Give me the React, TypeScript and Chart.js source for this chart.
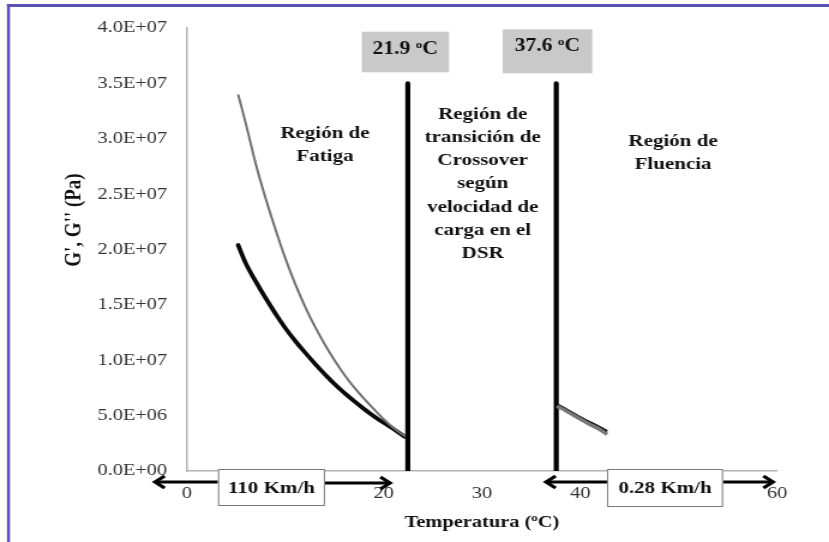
import React, { useEffect, useRef } from 'react';
import { Chart, registerables } from 'chart.js';

Chart.register(...registerables);

// ---------- data ----------
const xTickLabels = ['0', '10', '20', '30', '40', '50', '60'];
const yTickLabels = ['0.0E+00', '5.0E+06', '1.0E+07', '1.5E+07', '2.0E+07', '2.5E+07', '3.0E+07', '3.5E+07', '4.0E+07'];

// Fatigue region, G' (grey) and G'' (black)
const fatigueTempsGp = [5.2, 6, 7, 8, 9, 10, 11, 12, 13, 14, 15, 16, 17, 18, 19, 20, 21, 22.2];
const fatigueGp = [34.0e6, 31.3e6, 27.7e6, 24.6e6, 21.8e6, 19.2e6, 16.9e6, 14.85e6, 13.05e6, 11.45e6, 10.0e6, 8.7e6, 7.55e6, 6.53e6, 5.58e6, 4.68e6, 3.88e6, 3.12e6];
const fatigueTempsGpp = [5.2, 6, 7, 8, 9, 10, 11, 12, 13, 14, 15, 16, 17, 18, 19, 20, 21, 22.1];
const fatigueGpp = [20.4e6, 18.7e6, 17.1e6, 15.6e6, 14.2e6, 12.9e6, 11.75e6, 10.7e6, 9.7e6, 8.75e6, 7.85e6, 7.05e6, 6.3e6, 5.6e6, 4.95e6, 4.35e6, 3.8e6, 3.1e6];

// Flow region
const flowTemps = [37.6, 38, 39, 40, 41, 42, 42.7];
const flowGp = [5.85e6, 5.7e6, 5.2e6, 4.7e6, 4.2e6, 3.75e6, 3.3e6];
const flowGpp = [5.95e6, 5.8e6, 5.3e6, 4.8e6, 4.35e6, 3.9e6, 3.55e6];

// Crossover limit lines
const crossoverTemps = [22.45, 37.55];
const crossoverTop = 3.5e7;
const crossoverLabels = ['21.9 ', '37.6 '];

const regionFatiga = ['Región de', 'Fatiga'];
const regionTransicion = ['Región de', 'transición de', 'Crossover', 'según', 'velocidad de', 'carga en el', 'DSR'];
const regionFluencia = ['Región de', 'Fluencia'];
const speedLabels = ['110 Km/h', '0.28 Km/h'];

// ---------- layout ----------
const W = 829;
const H = 542;
const CW = 691; // internal canvas width; displayed stretched like the reference
const SX = W / CW;
const FONT = '"Liberation Serif", "Times New Roman", Times, serif';

const pts = (xs: number[], ys: number[]) => xs.map((x, i) => ({ x, y: ys[i] }));

function drawRich(ctx: CanvasRenderingContext2D, parts: [string, boolean][], cx: number, cy: number, size: number) {
  const base = `bold ${size}px ${FONT}`;
  const sup = `bold ${Math.round(size * 0.62)}px ${FONT}`;
  let total = 0;
  for (const [t, s] of parts) {
    ctx.font = s ? sup : base;
    total += ctx.measureText(t).width;
  }
  let x = cx - total / 2;
  ctx.textAlign = 'left';
  ctx.textBaseline = 'alphabetic';
  const baseY = cy + size * 0.34;
  for (const [t, s] of parts) {
    ctx.font = s ? sup : base;
    ctx.fillText(t, x, s ? baseY - size * 0.36 : baseY);
    x += ctx.measureText(t).width;
  }
}

function drawArrow(ctx: CanvasRenderingContext2D, x1: number, x2: number, y: number) {
  const a = x1 / SX;
  const b = x2 / SX;
  const dir = Math.sign(b - a);
  ctx.save();
  ctx.strokeStyle = '#000';
  ctx.lineWidth = 3;
  ctx.beginPath();
  ctx.moveTo(a, y);
  ctx.lineTo(b - dir * 2, y);
  ctx.stroke();
  ctx.lineWidth = 3.2;
  ctx.lineJoin = 'miter';
  ctx.beginPath();
  ctx.moveTo(b - dir * 8, y - 6);
  ctx.lineTo(b, y);
  ctx.lineTo(b - dir * 8, y + 6);
  ctx.stroke();
  ctx.restore();
}

function drawLines(ctx: CanvasRenderingContext2D, lines: string[], cxVis: number, y0: number, step: number) {
  ctx.font = `bold 17.5px ${FONT}`;
  ctx.fillStyle = '#111';
  ctx.textAlign = 'center';
  ctx.textBaseline = 'middle';
  lines.forEach((l, i) => ctx.fillText(l, cxVis / SX, y0 + i * step));
}

const annotations = {
  id: 'annotations',
  afterDraw(chart: any) {
    const ctx: CanvasRenderingContext2D = chart.ctx;
    ctx.save();

    // frame
    ctx.fillStyle = '#5a52b3';
    ctx.fillRect(7 / SX, 4, CW, 3);
    ctx.fillRect(7 / SX, 4, 3 / SX, H);

    // temperature boxes
    const boxes = [
      { x1: 361.7, x2: 449, y1: 31.7, y2: 72.3, cy: 48 },
      { x1: 502.7, x2: 592.3, y1: 29.3, y2: 73.3, cy: 45 },
    ];
    boxes.forEach((b, i) => {
      ctx.fillStyle = '#c9c9c9';
      ctx.fillRect(b.x1 / SX, b.y1, (b.x2 - b.x1) / SX, b.y2 - b.y1);
      ctx.fillStyle = '#111';
      drawRich(ctx, [[crossoverLabels[i], false], ['o', true], ['C', false]], (b.x1 + b.x2) / 2 / SX, b.cy, 18);
    });

    // region texts
    drawLines(ctx, regionFatiga, 325, 133, 23.2);
    drawLines(ctx, regionTransicion, 482.7, 114.3, 23.2);
    drawLines(ctx, regionFluencia, 673, 141, 23.2);

    // speed arrows and boxes
    drawArrow(ctx, 218, 155, 482);
    drawArrow(ctx, 325, 390, 483);
    drawArrow(ctx, 607, 546, 482);
    drawArrow(ctx, 723, 773, 482);
    const sb = [
      { x1: 218, x2: 325, y1: 469, y2: 506 },
      { x1: 607, x2: 723, y1: 469, y2: 507 },
    ];
    sb.forEach((b, i) => {
      ctx.fillStyle = '#fff';
      ctx.fillRect(b.x1 / SX, b.y1, (b.x2 - b.x1) / SX, b.y2 - b.y1);
      ctx.strokeStyle = '#777';
      ctx.lineWidth = 1;
      ctx.strokeRect(b.x1 / SX + 0.5, b.y1 + 0.5, (b.x2 - b.x1) / SX - 1, b.y2 - b.y1 - 1);
      ctx.fillStyle = '#111';
      ctx.font = `bold 17.5px ${FONT}`;
      ctx.textAlign = 'center';
      ctx.textBaseline = 'middle';
      ctx.fillText(speedLabels[i], (b.x1 + b.x2) / 2 / SX, (b.y1 + b.y2) / 2 + 0.5);
    });

    // axis titles
    ctx.fillStyle = '#111';
    drawRich(ctx, [['Temperatura (', false], ['o', true], ['C)', false]], 482 / SX, 521, 17);
    ctx.save();
    ctx.translate(75 / SX, 220);
    ctx.rotate(-Math.PI / 2);
    ctx.font = `bold 19px ${FONT}`;
    ctx.textAlign = 'center';
    ctx.textBaseline = 'middle';
    ctx.fillText("G', G'' (Pa)", 0, 0);
    ctx.restore();

    ctx.restore();
  },
};

export default function App() {
  const ref = useRef<HTMLCanvasElement>(null);
  useEffect(() => {
    const canvas = ref.current;
    if (!canvas) return;
    const vline = (t: number) => ({
      data: [{ x: t, y: 0 }, { x: t, y: crossoverTop }],
      borderColor: '#000',
      borderWidth: 4.2,
      borderCapStyle: 'round' as const,
      pointRadius: 0,
      tension: 0,
    });
    const chart = new Chart(canvas, {
      type: 'line',
      data: {
        datasets: [
          { label: "G'", data: pts(fatigueTempsGp, fatigueGp), borderColor: '#707070', borderWidth: 2, pointRadius: 0, tension: 0.4 },
          { label: "G''", data: pts(fatigueTempsGpp, fatigueGpp), borderColor: '#0a0a0a', borderWidth: 3.8, pointRadius: 0, tension: 0.4, borderCapStyle: 'round' },
          { label: "G' flow", data: pts(flowTemps, flowGp), borderColor: '#777', borderWidth: 3.5, pointRadius: 0, tension: 0.4 },
          { label: "G'' flow", data: pts(flowTemps, flowGpp), borderColor: '#0a0a0a', borderWidth: 3.2, pointRadius: 0, tension: 0.4 },
          ...crossoverTemps.map(vline),
        ] as any,
      },
      options: {
        responsive: false,
        animation: false,
        parsing: false as any,
        normalized: true,
        layout: { padding: { top: 28, right: CW - 777 / SX, left: 0, bottom: 0 } },
        plugins: { legend: { display: false }, tooltip: { enabled: false }, title: { display: false } },
        scales: {
          x: {
            type: 'linear',
            min: 0,
            max: 60,
            grid: { display: false, drawTicks: false },
            border: { display: true, color: '#b3b3b3', width: 1.5 },
            ticks: {
              stepSize: 10,
              padding: 12,
              color: '#333',
              font: { family: FONT, size: 17 },
              maxRotation: 0,
              callback: (_v: any, i: number) => xTickLabels[i],
            },
            afterFit: (s: any) => { s.height = H - 471; },
          },
          y: {
            type: 'linear',
            min: 0,
            max: 4e7,
            grid: { display: false, drawTicks: false },
            border: { display: true, color: '#b3b3b3', width: 1.5 },
            ticks: {
              stepSize: 5e6,
              padding: 16.5,
              color: '#333',
              font: { family: FONT, size: 17 },
              callback: (_v: any, i: number) => yTickLabels[i],
            },
            afterFit: (s: any) => { s.width = 187 / SX; },
          },
        },
      },
      plugins: [annotations],
    });
    return () => chart.destroy();
  }, []);
  return (
    <div style={{ position: 'absolute', left: 0, top: 0, width: W, height: H, background: '#fff' }}>
      <canvas ref={ref} width={CW} height={H} style={{ width: `${W}px`, height: `${H}px`, display: 'block' }} />
    </div>
  );
}
